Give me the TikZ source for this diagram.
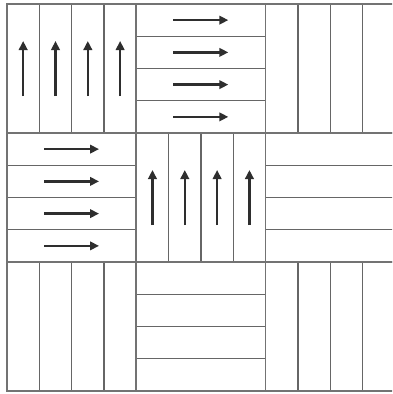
\documentclass[tikz,border=0pt]{standalone}
\usetikzlibrary{arrows.meta}
\begin{document}
\begin{tikzpicture}[x=1pt,y=-1pt,
  strip/.style={draw=black!60,line width=1.2pt},
  blockedge/.style={draw=black!55,line width=1.7pt},
  flow/.style={draw=black!82,line width=2.3pt,-{Triangle[length=9pt,width=8.5pt]}}]
\useasboundingbox (0,0) rectangle (392,394);
\fill[white] (0,0) rectangle (392,394);
\clip (0,0) rectangle (392,394);
\def\bw{129.3}
\def\bh{129}
% block list: col/row/type/arrows  (type 0 = vertical strips, 1 = horizontal strips)
\foreach \c/\r/\t/\a in {0/0/0/1, 1/0/1/1, 2/0/0/0,
                         0/1/1/1, 1/1/0/1, 2/1/1/0,
                         0/2/0/0, 1/2/1/0, 2/2/0/0} {
  \pgfmathsetmacro{\X}{7+\c*\bw}
  \pgfmathsetmacro{\Y}{4+\r*\bh}
  \ifnum\t=0
    \foreach \k in {1,2,3} {
      \draw[strip] ({\X+\k*\bw/4},\Y) -- ({\X+\k*\bw/4},{\Y+\bh});
    }
    \ifnum\a=1
      \foreach \k in {0,1,2,3} {
        \draw[flow] ({\X+(\k+0.5)*\bw/4},{\Y+92}) -- ({\X+(\k+0.5)*\bw/4},{\Y+37});
      }
    \fi
  \else
    \foreach \k in {1,2,3} {
      \draw[strip] (\X,{\Y+\k*\bh/4}) -- ({\X+\bw},{\Y+\k*\bh/4});
    }
    \ifnum\a=1
      \foreach \k in {0,1,2,3} {
        \draw[flow] ({\X+37},{\Y+(\k+0.5)*\bh/4}) -- ({\X+92},{\Y+(\k+0.5)*\bh/4});
      }
    \fi
  \fi
  \draw[blockedge] (\X,\Y) rectangle ({\X+\bw},{\Y+\bh});
}
\end{tikzpicture}
\end{document}
